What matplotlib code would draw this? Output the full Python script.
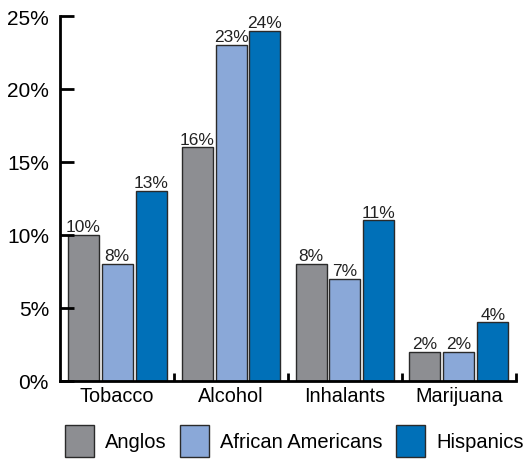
import numpy as np
import matplotlib.pyplot as plt
from matplotlib.ticker import FuncFormatter

plt.rcParams['font.family'] = ['Liberation Sans', 'DejaVu Sans']

categories = ['Tobacco', 'Alcohol', 'Inhalants', 'Marijuana']
groups = ['Anglos', 'African Americans', 'Hispanics']
anglos = [10, 16, 8, 2]
african = [8, 23, 7, 2]
hispanics = [13, 24, 11, 4]
colors = ['#8d8e92', '#8aa8d8', '#0070b8']

fig = plt.figure(figsize=(5.27, 4.6), dpi=100)
ax = fig.add_axes([0.114, 0.170, 0.865, 0.793])

x = np.arange(len(categories))
step = 0.298
width = 0.272
for i, (vals, name) in enumerate(zip([anglos, african, hispanics], groups)):
    pos = x + (i - 1) * step
    bars = ax.bar(pos, vals, width, color=colors[i], edgecolor='#2a2a2a',
                  linewidth=1, label=name)
    for b, v in zip(bars, vals):
        ax.text(b.get_x() + b.get_width() / 2, v + 0.05, f'{v}%',
                ha='center', va='bottom', fontsize=12.5, color='#222222')

ax.set_xlim(-0.5, 3.5)
ax.set_ylim(0, 25)
ax.set_yticks(range(0, 26, 5))
ax.yaxis.set_major_formatter(FuncFormatter(lambda v, p: f'{int(v)}%'))
ax.tick_params(axis='y', direction='in', length=10, width=2, labelsize=15, pad=8)

ax.set_xticks([0.5, 1.5, 2.5, 3.5])
ax.set_xticklabels([])
ax.tick_params(axis='x', direction='in', length=6, width=2)
ax.set_xticks(x, minor=True)
ax.set_xticklabels(categories, minor=True, fontsize=14.3)
ax.tick_params(axis='x', which='minor', length=0, pad=4)

for s in ['top', 'right']:
    ax.spines[s].set_visible(False)
for s in ['left', 'bottom']:
    ax.spines[s].set_linewidth(2)

fig.legend(loc='center', bbox_to_anchor=(0.558, 0.039), ncol=3, frameon=False,
           fontsize=14.5, handlelength=1.45, handleheight=2.1, columnspacing=0.65,
           handletextpad=0.55, borderpad=0.1)

plt.savefig('out.png', facecolor='w')
